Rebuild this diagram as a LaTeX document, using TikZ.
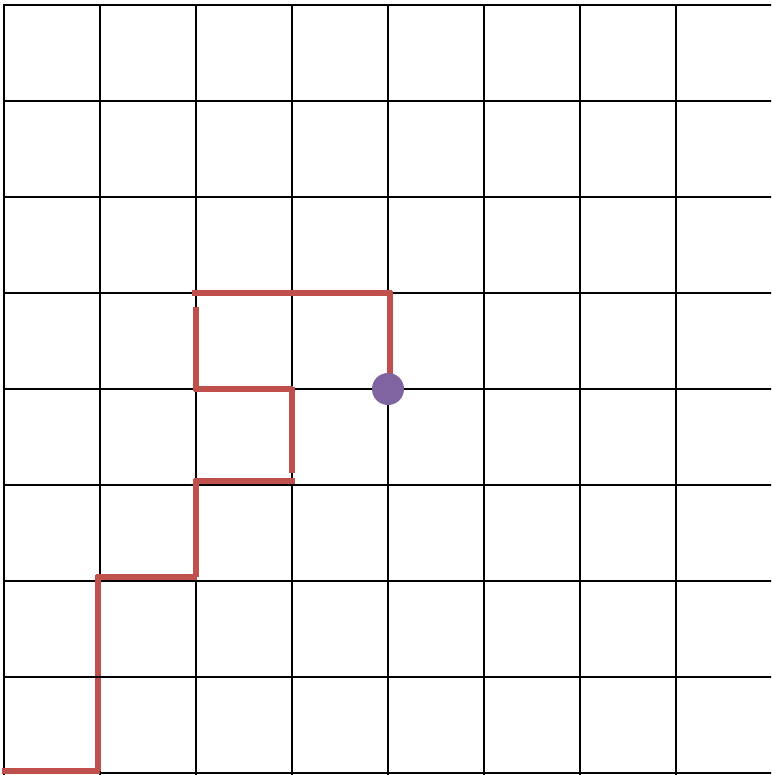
\documentclass[tikz,border=0pt]{standalone}
\definecolor{pathred}{HTML}{C0504D}
\definecolor{dotpurple}{HTML}{8064A2}
\tikzset{
  gridline/.style={black, line width=2.4pt},
  walk/.style={pathred, line width=5.2pt},
  dot/.style={circle, fill=dotpurple, inner sep=0pt, minimum size=32pt}
}
\begin{document}
\begin{tikzpicture}[x=1pt, y=-1pt]
\useasboundingbox (0,0) rectangle (771,775);
\begin{scope}
\clip (0,0) rectangle (771,775);
\foreach \x in {4,100,196,292,388,484,580,676}
  \draw[gridline] (\x,4) -- (\x,775);
\foreach \y in {5,101,197,293,389,485,581,677,773}
  \draw[gridline] (3,\y) -- (775,\y);
\end{scope}
% red walk, drawn as separate strokes
\draw[walk] (2,771) -- (100,771);
\draw[walk] (98,771) -- (98,678);
\draw[walk] (98,676) -- (98,575);
\draw[walk] (96,577) -- (197,577);
\draw[walk] (196,577) -- (196,479);
\draw[walk] (194,481) -- (295,481);
\draw[walk] (292,473) -- (292,387);
\draw[walk] (293,389) -- (194,389);
\draw[walk] (196,391) -- (196,307);
\draw[walk] (192,293) -- (392,293);
\draw[walk] (390,291) -- (390,385);
\node[dot] (end) at (388,389) {};
\end{tikzpicture}
\end{document}
